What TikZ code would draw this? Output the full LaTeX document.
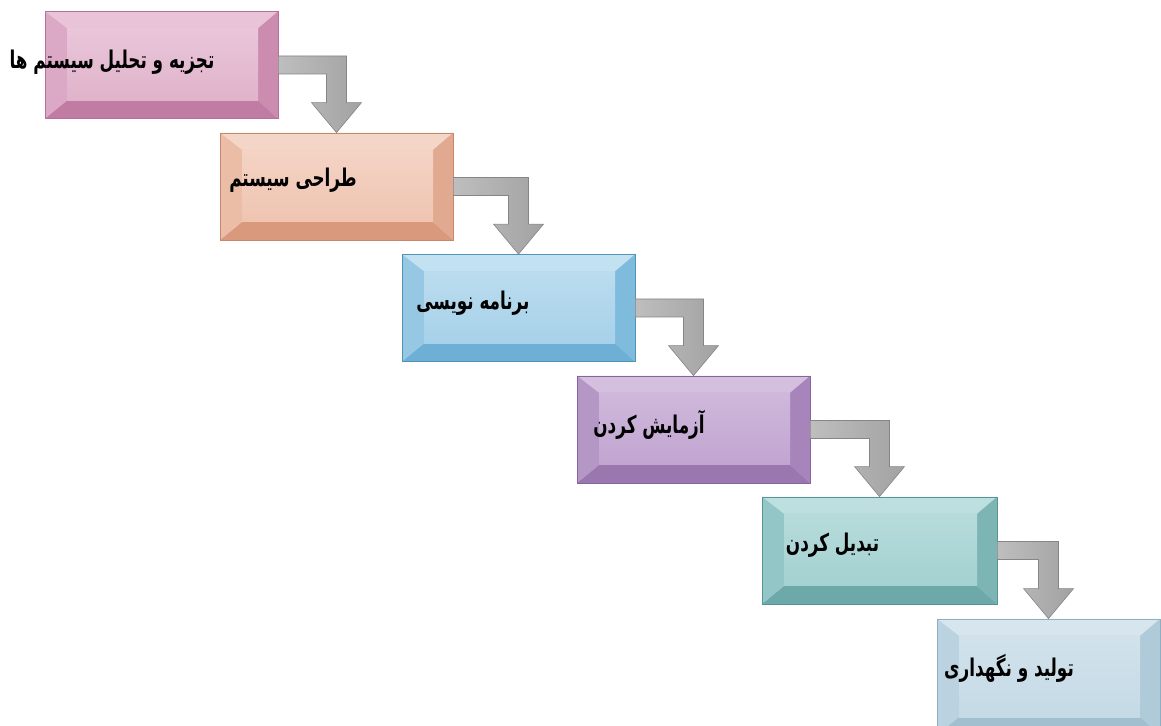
\documentclass[tikz,border=0pt]{standalone}
\usepackage{fontspec}
\usetikzlibrary{calc}
\TeXXeTstate=1
\newfontfamily\fafont[Script=Arabic]{DejaVu Sans}

% stage colours: edge, top, left, bottom, right bevels, face
\definecolor{pkedge}{HTML}{B3709A}
\definecolor{pktop}{HTML}{E9C4D8}
\definecolor{pkleft}{HTML}{DBA8C5}
\definecolor{pkbot}{HTML}{C17CA3}
\definecolor{pkright}{HTML}{CB8CB0}
\definecolor{pkmid}{HTML}{E0B3CB}
\definecolor{pkhi}{HTML}{E9C6D9}

\definecolor{saedge}{HTML}{C8866A}
\definecolor{satop}{HTML}{F4D6C8}
\definecolor{saleft}{HTML}{EBBCA6}
\definecolor{sabot}{HTML}{D8997D}
\definecolor{saright}{HTML}{E1A98F}
\definecolor{samid}{HTML}{EFC4B1}
\definecolor{sahi}{HTML}{F4D3C5}

\definecolor{bledge}{HTML}{4E93B8}
\definecolor{bltop}{HTML}{C2E1F1}
\definecolor{blleft}{HTML}{96C8E3}
\definecolor{blbot}{HTML}{6EAFD5}
\definecolor{blright}{HTML}{7FBBDD}
\definecolor{blmid}{HTML}{A6D1E9}
\definecolor{blhi}{HTML}{BBDCEE}

\definecolor{puedge}{HTML}{8764A0}
\definecolor{putop}{HTML}{D4BFDF}
\definecolor{puleft}{HTML}{B597C6}
\definecolor{pubot}{HTML}{9B77AF}
\definecolor{puright}{HTML}{A785BA}
\definecolor{pumid}{HTML}{C1A5D1}
\definecolor{puhi}{HTML}{CFB8DB}

\definecolor{teedge}{HTML}{599494}
\definecolor{tetop}{HTML}{BDDFDF}
\definecolor{teleft}{HTML}{93C6C6}
\definecolor{tebot}{HTML}{6DA9A9}
\definecolor{teright}{HTML}{7DB5B5}
\definecolor{temid}{HTML}{A4D1D1}
\definecolor{tehi}{HTML}{B7DBDB}

\definecolor{gyedge}{HTML}{8EAFC1}
\definecolor{gytop}{HTML}{D7E6EE}
\definecolor{gyleft}{HTML}{BBD3E0}
\definecolor{gybot}{HTML}{A2BFCF}
\definecolor{gyright}{HTML}{AFCAD8}
\definecolor{gymid}{HTML}{C5DAE6}
\definecolor{gyhi}{HTML}{D1E2EB}

\definecolor{arrowfill}{HTML}{A2A2A2}
\definecolor{arrowlight}{HTML}{BEBEBE}
\definecolor{arrowedge}{HTML}{858585}

\tikzset{
  stagebox/.style={
    draw=#1edge, line width=0.8pt, fill=#1mid,
    minimum width=233pt, minimum height=107pt, inner sep=0pt,
    path picture={
      \fill[#1top] (path picture bounding box.north west) -- (path picture bounding box.north east)
        -- ([shift={(-20pt,-17pt)}]path picture bounding box.north east)
        -- ([shift={(22pt,-17pt)}]path picture bounding box.north west) -- cycle;
      \fill[#1bot] (path picture bounding box.south west) -- (path picture bounding box.south east)
        -- ([shift={(-20pt,18pt)}]path picture bounding box.south east)
        -- ([shift={(22pt,18pt)}]path picture bounding box.south west) -- cycle;
      \fill[#1left] (path picture bounding box.north west) -- (path picture bounding box.south west)
        -- ([shift={(22pt,18pt)}]path picture bounding box.south west)
        -- ([shift={(22pt,-17pt)}]path picture bounding box.north west) -- cycle;
      \fill[#1right] (path picture bounding box.north east) -- (path picture bounding box.south east)
        -- ([shift={(-20pt,18pt)}]path picture bounding box.south east)
        -- ([shift={(-20pt,-17pt)}]path picture bounding box.north east) -- cycle;
      \shade[top color=#1hi, bottom color=#1mid]
        ([shift={(22pt,-17pt)}]path picture bounding box.north west)
        rectangle ([shift={(-20pt,18pt)}]path picture bounding box.south east);
    }},
  stagetext/.style={font=\fafont\bfseries\fontsize{16.8}{20}\selectfont, inner sep=0pt, anchor=center},
  elbow/.style={left color=arrowlight, right color=arrowfill, draw=arrowedge, line width=0.6pt, line join=miter}
}

% right-to-left label, set a little taller than the font's own proportions
\newcommand\rtltext[1]{\scalebox{1}[1.45]{\beginR #1\endR}}

% elbow arrow from the right side of one stage down onto the top of the next
\newcommand\elbowarrow[2]{%
  \path[elbow] let \p1=(#1.east), \p2=(#2.north) in
    (\x1, \y1+9pt) -- (\x2+10pt, \y1+9pt) -- (\x2+10pt, \y2+30pt) -- (\x2+25pt, \y2+30pt)
    -- (\x2, \y2) -- (\x2-25pt, \y2+30pt) -- (\x2-10pt, \y2+30pt) -- (\x2-10pt, \y1-9pt)
    -- (\x1, \y1-9pt) -- cycle;}

\begin{document}
\begin{tikzpicture}[x=1pt, y=1pt]
  \useasboundingbox[fill=white] (0,0) rectangle (1161,725);

  \node[stagebox=pk] (b1) at (161.5,660) {};
  \node[stagebox=sa] (b2) at (336.5,538.5) {};
  \node[stagebox=bl] (b3) at (518.5,417) {};
  \node[stagebox=pu] (b4) at (693.5,295.5) {};
  \node[stagebox=te, minimum width=235pt] (b5) at (879.5,174.5) {};
  \node[stagebox=gy, minimum width=223pt, minimum height=116pt] (b6) at (1048.5,48) {};

  \elbowarrow{b1}{b2}
  \elbowarrow{b2}{b3}
  \elbowarrow{b3}{b4}
  \elbowarrow{b4}{b5}
  \elbowarrow{b5}{b6}

  \node[stagetext] (t1) at (112,663) {\rtltext{تجزیه و تحلیل سیستم ها}};
  \node[stagetext] (t2) at (293,545) {\rtltext{طراحی سیستم}};
  \node[stagetext] (t3) at (473,422) {\rtltext{برنامه نویسی}};
  \node[stagetext] (t4) at (649,300) {\rtltext{آزمایش کردن}};
  \node[stagetext] (t5) at (832.5,180) {\rtltext{تبدیل کردن}};
  \node[stagetext] (t6) at (1009,57) {\rtltext{تولید و نگهداری}};
\end{tikzpicture}
\end{document}
